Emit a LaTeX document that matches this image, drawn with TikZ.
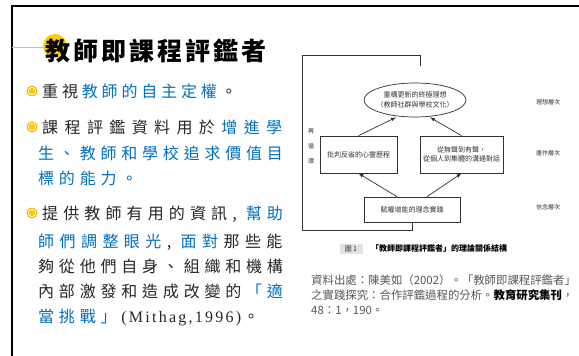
\documentclass[tikz,border=0pt]{standalone}
\usepackage{xcolor}
\usepackage{fontspec}
\setmainfont{Liberation Serif}
\newfontfamily\cjk{Noto Sans CJK TC}
\newfontfamily\cjkheavy{Noto Sans CJK TC Black}
\usepackage{tikz}
\usetikzlibrary{positioning,shapes.geometric,arrows}
\definecolor{ink}{RGB}{38,38,38}
\definecolor{keyblue}{RGB}{0,112,192}
\definecolor{dotcore}{RGB}{255,204,0}
\definecolor{dotring}{RGB}{242,178,0}
\definecolor{scan}{RGB}{50,50,50}
\definecolor{citegray}{RGB}{88,88,88}
\newlength{\lspk}
\newcommand{\blu}[1]{{\color{keyblue}#1}}
\newcommand{\lsp}[1]{\addfontfeature{LetterSpace=#1}\lspk=0.16pt\lspk=#1\lspk}
\newcommand{\sk}{\kern\lspk}
\tikzset{
  txt/.style={anchor=west,inner sep=0pt,text=ink,text height=14pt,text depth=2pt,
    font=\cjk\fontsize{16}{20}\selectfont},
  ttl/.style={anchor=west,inner sep=0pt,text=black,font=\cjkheavy\fontsize{25}{30}\selectfont},
  fig/.style={draw=scan,line width=0.7pt,inner sep=1pt,align=center,text=scan,
    font=\cjk\fontsize{7}{9.5}\selectfont},
  lvl/.style={inner sep=0pt,text=scan,align=center,font=\cjk\fontsize{6}{8}\selectfont},
  flow/.style={draw=scan,line width=0.7pt,-latex},
  cite/.style={anchor=west,inner sep=0pt,text=citegray,font=\cjk\fontsize{11.4}{15}\selectfont}
}

\begin{document}
\begin{tikzpicture}[x=1pt,y=-1pt]
\useasboundingbox (0,0) rectangle (579,356);
\fill[white] (0,0) rectangle (579,356);

% slide frame
\draw[line width=2.2pt] (12,356)--(12,6)--(579,6);
\draw[line width=0.3pt,lightgray] (12,47)--(44,47);

% title
\fill[dotcore] (55,46) circle (12);
\node[ttl] (title) at (45,51) {\lsp{12}教師即課程評鑑者};

% bullets
\foreach \y in {91,127,213}{
  \fill[dotring] (32,\y) circle (5.5);
  \fill[white] (32,\y) circle (4.2);
  \fill[dotcore] (32,\y) circle (3.3);
}

\node[txt] (pa) at (42,91) {\lsp{24}重視\sk\blu{教師的自主定權}\sk。};

\node[txt] (pb1) at (42,127) {\lsp{40}課程評鑑資料用於\sk\blu{增進學}};
\node[txt] (pb2) at (38,153) {\lsp{30}\blu{生、教師和學校追求價值目}};
\node[txt] (pb3) at (38,178) {\lsp{30}\blu{標的能力。}};

\node[txt] (pc1) at (42,213) {\lsp{32}提供教師有用的資訊,\sk\kern4pt\blu{幫助}};
\node[txt] (pc2) at (38,241) {\lsp{34}\blu{師們調整眼光}\sk,\sk\kern4pt\blu{面對}\sk 那些能};
\node[txt] (pc3) at (38,266) {\lsp{30}夠從他們自身、組織和機構};
\node[txt] (pc4) at (38,291) {\lsp{30}內部激發和造成改變的\sk\blu{「適}};
\node[txt] (pc5) at (38,316) {\lsp{30}\blu{當挑戰」}\sk{\rmfamily\lsp{14}(Mithag,1996)}\kern2pt。};

% figure
\node[fig,ellipse,minimum width=102pt,minimum height=34pt,inner xsep=-6pt,inner ysep=0pt]
  (ideal) at (415,100) {重構更新的終極理想\\（教師社群與學校文化）};
\node[fig,minimum width=77pt,minimum height=37pt] (reflect) at (358.5,154.5) {批判反省的心靈歷程};
\node[fig,minimum width=83pt,minimum height=37pt] (dialog) at (461.5,154.5)
  {從無聲到有聲，\\從個人到集體的溝通對話};
\node[fig,minimum width=96pt,minimum height=25pt] (practice) at (412,209.5) {賦權增能的理念實踐};

\draw[flow] ([xshift=-15pt]practice.north)--(reflect.south);
\draw[flow] ([xshift=15pt]practice.north)--(dialog.south);
\draw[flow] (reflect.north)--([xshift=-19pt]ideal.south);
\draw[flow] (dialog.north)--([xshift=15pt]ideal.south);

\coordinate (loopbl) at (302,230);
\coordinate (looptl) at (302,55);
\coordinate (looptr) at (420,55);
\coordinate (loopend) at (420,66);
\draw[scan,line width=0.7pt] (practice.south) |- (loopbl)--(looptl)--(looptr)--(loopend);

\node[lvl,font=\cjk\fontsize{6}{15}\selectfont] (again) at (311,146) {再\\循\\環};
\node[lvl] (lvlideal) at (548,102) {理想層次};
\node[lvl] (lvlwork) at (548,153) {運作層次};
\node[lvl] (lvlbelief) at (548,207) {信念層次};

\node[fill=gray!22,inner sep=0pt,minimum width=23pt,minimum height=10pt,text=scan,
  font=\cjk\fontsize{7}{8}\selectfont] (fignum) at (351,248.5) {圖\,\textit{1}};
\node[anchor=west,inner sep=0pt,text=black,font=\cjk\bfseries\fontsize{8}{9}\selectfont]
  (figcap) at (371,248.5) {「教師即課程評鑑者」的理論關係結構};

% source
\node[cite] (src1) at (311,280) {資料出處：陳美如（2002）。「教師即課程評鑑者」};
\node[cite] (src2) at (311,295) {之實踐探究：合作評鑑過程的分析。{\color{black}\bfseries 教育研究集刊}，};
\node[cite] (src3) at (311,310) {48：1，190。};

\end{tikzpicture}
\end{document}
